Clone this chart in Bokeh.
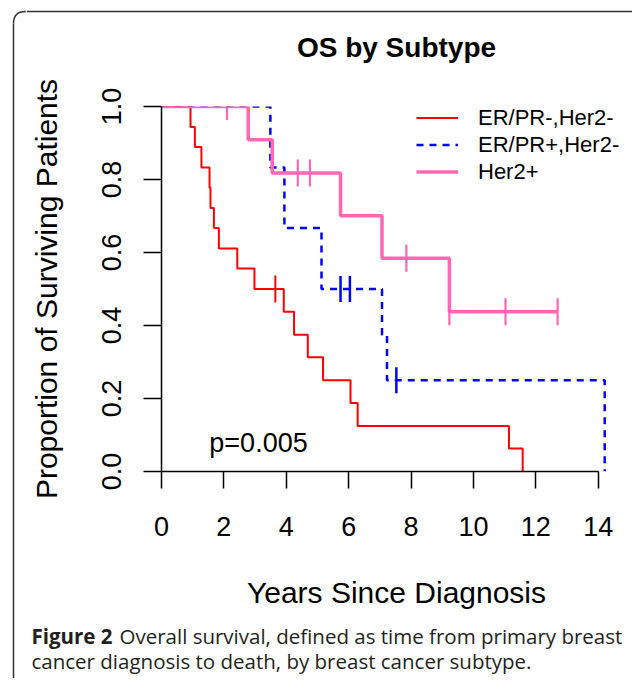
import numpy as np
from bokeh.plotting import figure
from bokeh.layouts import row, column
from bokeh.models import FixedTicker, Legend, LegendItem, Label, Range1d
from bokeh.core.properties import value
from bokeh.embed import file_html
from bokeh.resources import INLINE

# ---------------- data ----------------
series_names = ["ER/PR-,Her2-", "ER/PR+,Her2-", "Her2+"]

red_time = [0, 0.93, 1.07, 1.28, 1.54, 1.57, 1.68, 1.84, 2.43, 2.98, 3.92, 4.25,
            4.69, 5.18, 6.06, 6.29, 11.14, 11.58]
red_surv = [1.0, 0.944, 0.889, 0.833, 0.778, 0.722, 0.667, 0.611, 0.556, 0.5,
            0.438, 0.375, 0.313, 0.25, 0.188, 0.125, 0.063, 0.0]
red_cens_time = [3.65]
red_cens_surv = [0.5]

blue_time = [0, 3.49, 3.94, 5.13, 7.07, 7.23, 14.21]
blue_surv = [1.0, 0.833, 0.667, 0.5, 0.375, 0.25, 0.0]
blue_cens_time = [5.74, 6.04, 7.53]
blue_cens_surv = [0.5, 0.5, 0.25]

pink_time = [0, 2.78, 3.55, 5.74, 7.07, 9.23, 12.70]
pink_surv = [1.0, 0.909, 0.818, 0.701, 0.584, 0.438, 0.438]
pink_cens_time = [2.10, 4.37, 4.76, 7.85, 9.23, 11.03, 12.70]
pink_cens_surv = [1.0, 0.818, 0.818, 0.584, 0.438, 0.438, 0.438]

x_ticks = [0, 2, 4, 6, 8, 10, 12, 14]
x_tick_labels = ["0", "2", "4", "6", "8", "10", "12", "14"]
y_ticks = [0.0, 0.2, 0.4, 0.6, 0.8, 1.0]
y_tick_labels = ["0.0", "0.2", "0.4", "0.6", "0.8", "1.0"]

title_text = "OS by Subtype"
x_title = "Years Since Diagnosis"
y_title = "Proportion of Surviving Patients"
p_value_text = "p=0.005"
caption_bold = "Figure 2"
caption_line1 = "Overall survival, defined as time from primary breast"
caption_line2 = "cancer diagnosis to death, by breast cancer subtype."

RED, BLUE, PINK = "#FF0000", "#0000FF", "#FF69B4"
FONT = "Liberation Sans"
CAP_FONT = "Open Sans"
CAP_COLOR = "#231F20"
FRAME_COLOR = "#333333"

# ---------------- page geometry (pixels) ----------------
TOTAL_W, TOTAL_H = 632, 678
LEFT_W = 26           # left strip holding the rounded border
TOP_H = 80            # top strip: border line + title
CAP_H = 60            # caption strip
MAIN_W = TOTAL_W - LEFT_W
MAIN_H = TOTAL_H - TOP_H - CAP_H
BORDER_X, BORDER_Y, RADIUS = 13, 11, 12


def blank(width, height, xr, yr):
    f = figure(width=width, height=height, output_backend="svg",
               toolbar_location=None, x_axis_type=None, y_axis_type=None,
               x_range=Range1d(*xr), y_range=Range1d(*yr), min_border=0,
               frame_align=False)
    f.outline_line_color = None
    f.grid.visible = False
    f.background_fill_color = "white"
    f.border_fill_color = "white"
    return f


# left strip: vertical border + rounded corner
left = blank(LEFT_W, TOTAL_H, (0, LEFT_W), (TOTAL_H, 0))
left.line([BORDER_X, BORDER_X], [BORDER_Y + RADIUS, TOTAL_H],
          line_color=FRAME_COLOR, line_width=1.5)
left.quadratic(x0=[BORDER_X], y0=[BORDER_Y + RADIUS], x1=[BORDER_X + RADIUS],
               y1=[BORDER_Y], cx=[BORDER_X], cy=[BORDER_Y],
               line_color=FRAME_COLOR, line_width=1.5)
left.line([BORDER_X + RADIUS, LEFT_W], [BORDER_Y, BORDER_Y],
          line_color=FRAME_COLOR, line_width=1.5)

# top strip: border line + title
top = blank(MAIN_W, TOP_H, (LEFT_W, TOTAL_W), (TOP_H, 0))
top.line([LEFT_W, TOTAL_W], [BORDER_Y, BORDER_Y],
         line_color=FRAME_COLOR, line_width=1.5)
top.text(x=[396], y=[47], text=[title_text], text_align="center",
         text_baseline="alphabetic", text_font=value(FONT),
         text_font_size="28px", text_font_style="bold", text_color="black")

# ---------------- main KM plot ----------------
ML = 161 - LEFT_W
MT = 106 - TOP_H
MB = MAIN_H - (471 - TOP_H)
MR = 1
x_end = (MAIN_W - ML - MR) / 31.19

p = figure(width=MAIN_W, height=MAIN_H, output_backend="svg",
           toolbar_location=None, x_range=(0, x_end), y_range=(0, 1.0),
           min_border_left=ML, min_border_right=MR,
           min_border_top=MT, min_border_bottom=MB, frame_align=False)
p.outline_line_color = None
p.grid.visible = False
p.background_fill_color = "white"
p.border_fill_color = "white"

xa = p.xaxis[0]
xa.ticker = FixedTicker(ticks=x_ticks)
xa.major_label_overrides = dict(zip(x_ticks, x_tick_labels))
xa.bounds = (x_ticks[0], x_ticks[-1])
xa.minor_tick_line_color = None
xa.major_tick_in = 0
xa.major_tick_out = 17
xa.major_tick_line_width = 1.5
xa.axis_line_width = 1.5
xa.major_label_text_font = FONT
xa.major_label_text_font_size = "27px"
xa.major_label_text_color = "black"
xa.major_label_standoff = 28
xa.axis_label = x_title
xa.axis_label_text_font = FONT
xa.axis_label_text_font_size = "30px"
xa.axis_label_text_font_style = "normal"
xa.axis_label_text_color = "black"
xa.axis_label_standoff = 37

ya = p.yaxis[0]
ya.ticker = FixedTicker(ticks=y_ticks)
ya.major_label_overrides = dict(zip(y_ticks, y_tick_labels))
ya.minor_tick_line_color = None
ya.major_tick_in = 0
ya.major_tick_out = 18
ya.major_tick_line_width = 1.5
ya.axis_line_width = 1.5
ya.major_label_orientation = "vertical"
ya.major_label_text_font = FONT
ya.major_label_text_font_size = "27px"
ya.major_label_text_color = "black"
ya.major_label_standoff = 23
ya.axis_label = y_title
ya.axis_label_text_font = FONT
ya.axis_label_text_font_size = "30px"
ya.axis_label_text_font_style = "normal"
ya.axis_label_text_color = "black"
ya.axis_label_standoff = 36

r_red = p.step(red_time, red_surv, mode="after", line_color=RED, line_width=2)
r_blue = p.step(blue_time, blue_surv, mode="after", line_color=BLUE,
                line_width=2.5, line_dash="7 6")
r_pink = p.step(pink_time, pink_surv, mode="after", line_color=PINK,
                line_width=3.5)

p.scatter(red_cens_time, red_cens_surv, marker="dash", angle=np.pi / 2,
          size=27, line_color=RED, line_width=2)
p.scatter(blue_cens_time, blue_cens_surv, marker="dash", angle=np.pi / 2,
          size=26, line_color=BLUE, line_width=2.5)
p.scatter(pink_cens_time, pink_cens_surv, marker="dash", angle=np.pi / 2,
          size=27, line_color=PINK, line_width=2.2)

legend = Legend(items=[LegendItem(label=series_names[0], renderers=[r_red]),
                       LegendItem(label=series_names[1], renderers=[r_blue]),
                       LegendItem(label=series_names[2], renderers=[r_pink])],
                location=(255, 286), orientation="vertical",
                glyph_width=42, glyph_height=27, label_height=27,
                label_standoff=20, spacing=0, padding=0, margin=0,
                label_text_font=FONT, label_text_font_size="22px",
                label_text_color="black",
                border_line_alpha=0, background_fill_alpha=0)
p.add_layout(legend)

p.add_layout(Label(x=3.11, y=0.077, text=p_value_text, text_align="center",
                   text_baseline="alphabetic", text_font=FONT,
                   text_font_size="27px", text_color="black"))

# ---------------- caption strip ----------------
cap_top = TOP_H + MAIN_H
cap = blank(MAIN_W, CAP_H, (LEFT_W, TOTAL_W), (TOTAL_H, cap_top))
cap.text(x=[31], y=[635], text=[caption_bold], text_font=value(CAP_FONT),
         text_font_size="20.5px", text_font_style="bold", text_color=CAP_COLOR,
         text_baseline="alphabetic")
cap.text(x=[119], y=[635], text=[caption_line1], text_font=value(CAP_FONT),
         text_font_size="20.5px", text_color=CAP_COLOR,
         text_baseline="alphabetic")
cap.text(x=[31], y=[660], text=[caption_line2], text_font=value(CAP_FONT),
         text_font_size="20.5px", text_color=CAP_COLOR,
         text_baseline="alphabetic")

layout = row(left, column(top, p, cap, spacing=0), spacing=0)
open("out.html", "w").write(file_html(layout, INLINE))
